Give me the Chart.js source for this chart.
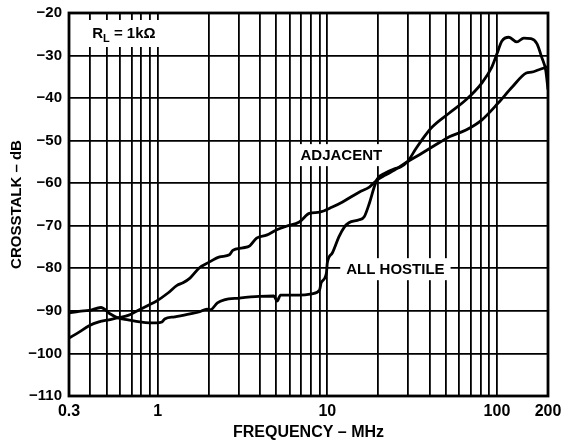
<!DOCTYPE html>
<html>
<head>
<meta charset="utf-8">
<title>Crosstalk vs Frequency</title>
<script src="https://cdn.jsdelivr.net/npm/chart.js@4.4.1/dist/chart.umd.min.js"></script>
<style>
  html, body { margin: 0; padding: 0; background: #fff; }
  canvas { display: block; }
</style>
</head>
<body>
<canvas id="crosstalk" width="561" height="445"></canvas>
<script>
// Crosstalk vs frequency, RL = 1k, adjacent channel and all channels hostile
const adjacentFreq = [0.3, 0.344, 0.394, 0.45, 0.515, 0.59, 0.676, 0.774, 0.887, 0.975,
  1.15, 1.3, 1.41, 1.55, 1.77, 2.0, 2.32, 2.65, 2.77, 3.17,
  3.49, 3.83, 4.38, 5.0, 5.73, 6.84, 7.83, 9.0, 10.7, 12.3,
  15.4, 17.7, 19.7, 22.0, 24.9, 29.0, 36.3, 45.6, 52.4, 65.7,
  81.6, 102, 123, 149, 160, 175, 200];
const adjacentDb = [-96.4, -95.0, -93.5, -92.6, -92.1, -91.6, -91.0, -89.8, -88.6, -87.8,
  -85.8, -84.0, -83.4, -82.3, -79.8, -78.6, -77.3, -76.8, -75.8, -75.2,
  -74.7, -72.9, -72.2, -71.0, -70.1, -69.1, -67.1, -66.8, -65.6, -64.4,
  -62.1, -60.9, -59.2, -58.1, -56.9, -55.2, -52.9, -50.5, -49.1, -47.5,
  -45.1, -41.1, -37.4, -34.1, -33.9, -33.4, -32.6];

const hostileFreq = [0.3, 0.344, 0.394, 0.463, 0.52, 0.58, 0.67, 0.785, 0.897, 0.98,
  1.06, 1.1, 1.26, 1.55, 1.77, 1.95, 2.05, 2.25, 2.47, 3.02,
  3.96, 4.84, 5.05, 5.3, 6.84, 8.1, 9.0, 9.2, 9.88, 10.0,
  10.7, 11.7, 12.6, 13.4, 15.4, 16.5, 17.7, 18.9, 19.7, 22.0,
  24.9, 27.0, 29.6, 33.4, 37.4, 41.5, 52.4, 65.7, 81.6, 93.3,
  100, 107, 117.6, 131, 144, 159, 172, 184, 194, 200];
const hostileDb = [-90.5, -90.1, -89.9, -89.2, -90.6, -91.6, -92.1, -92.6, -92.8, -92.8,
  -92.6, -91.9, -91.4, -90.7, -90.2, -89.6, -89.7, -88.1, -87.4, -87.0,
  -86.6, -86.5, -87.7, -86.3, -86.3, -86.0, -85.1, -83.4, -81.1, -78.7,
  -76.4, -72.6, -70.3, -69.3, -68.6, -67.9, -64.7, -60.9, -59.0, -57.6,
  -56.6, -56.2, -55.0, -51.8, -49.0, -46.8, -43.5, -40.4, -36.4, -32.7,
  -29.6, -26.6, -25.7, -26.8, -25.9, -26.0, -27.2, -30.5, -33.5, -38.0];

const xTickLabels = [0.3, 1, 10, 100, 200];

const FONT = '"Liberation Sans", Arial, Helvetica, sans-serif';

// vertical grid at 1..9 of every decade inside 0.3 - 200, plus the 200 edge
const gridFreqs = [];
for (let k = -1; k <= 2; k++) {
  for (let m = 1; m <= 9; m++) {
    const v = Number((m * Math.pow(10, k)).toPrecision(3));
    if (v >= 0.3 && v <= 200) gridFreqs.push(v);
  }
}

const toPoints = (xs, ys) => xs.map((x, i) => ({ x: x, y: ys[i] }));
const minus = v => String(v).replace('-', '\u2212');

// curve names sit on white boxes that hide the grid behind them
const curveLabels = [
  { text: 'ADJACENT', x: 12.1, y: -53.4 },
  { text: 'ALL HOSTILE', x: 25.2, y: -80.2 }
];

const plotText = {
  id: 'plotText',
  beforeDatasetsDraw(chart) {
    const { ctx, scales: { x, y } } = chart;
    ctx.save();
    ctx.font = 'bold 15px ' + FONT;
    ctx.textBaseline = 'middle';
    ctx.textAlign = 'center';
    curveLabels.forEach(l => {
      const px = x.getPixelForValue(l.x);
      const py = y.getPixelForValue(l.y);
      const w = ctx.measureText(l.text).width;
      ctx.fillStyle = '#fff';
      ctx.fillRect(px - w / 2 - 6, py - 11, w + 12, 22);
      ctx.fillStyle = '#000';
      ctx.fillText(l.text, px, py + 1);
    });

    // R with subscript L = 1kΩ
    const cx = x.getPixelForValue(0.632);
    const cy = y.getPixelForValue(-24.7);
    const big = 'bold 15px ' + FONT, small = 'bold 11px ' + FONT;
    ctx.textAlign = 'left';
    ctx.textBaseline = 'alphabetic';
    ctx.font = big;
    const wR = ctx.measureText('R').width;
    const wRest = ctx.measureText(' = 1k\u03A9').width;
    ctx.font = small;
    const wL = ctx.measureText('L').width;
    const total = wR + wL + wRest;
    ctx.fillStyle = '#fff';
    ctx.fillRect(cx - total / 2 - 7, cy - 13, total + 14, 27);
    ctx.fillStyle = '#000';
    let tx = cx - total / 2;
    const base = cy + 5;
    ctx.font = big;
    ctx.fillText('R', tx, base);
    tx += wR;
    ctx.font = small;
    ctx.fillText('L', tx, base + 4);
    tx += wL;
    ctx.font = big;
    ctx.fillText(' = 1k\u03A9', tx, base);
    ctx.restore();
  },
  afterDraw(chart) {
    const { ctx, chartArea: a } = chart;
    ctx.save();
    ctx.lineWidth = 2.8;
    ctx.strokeStyle = '#000';
    ctx.strokeRect(a.left, a.top, a.right - a.left, a.bottom - a.top);
    ctx.restore();
  }
};

const curveStyle = {
  borderColor: '#000',
  borderWidth: 2.8,
  pointRadius: 0,
  fill: false,
  cubicInterpolationMode: 'monotone'
};

new Chart(document.getElementById('crosstalk'), {
  type: 'line',
  data: {
    datasets: [
      Object.assign({ label: 'ADJACENT', data: toPoints(adjacentFreq, adjacentDb) }, curveStyle),
      Object.assign({ label: 'ALL HOSTILE', data: toPoints(hostileFreq, hostileDb) }, curveStyle)
    ]
  },
  options: {
    responsive: false,
    animation: false,
    layout: { padding: { top: 13, right: 13, bottom: 0, left: 0 } },
    plugins: { legend: { display: false }, tooltip: { enabled: false } },
    scales: {
      x: {
        type: 'logarithmic',
        min: 0.3,
        max: 200,
        border: { display: false },
        grid: { color: '#000', lineWidth: 1.8, drawTicks: false },
        afterBuildTicks: s => { s.ticks = gridFreqs.map(v => ({ value: v })); },
        ticks: {
          autoSkip: false,
          maxRotation: 0,
          padding: 6,
          color: '#000',
          font: { family: FONT, size: 16, weight: 'bold' },
          callback: v => xTickLabels.includes(v) ? String(v) : ''
        },
        title: {
          display: true,
          text: 'FREQUENCY \u2013 MHz',
          color: '#000',
          font: { family: FONT, size: 16, weight: 'bold' },
          padding: { top: 0, bottom: 3 }
        },
        afterFit: s => { s.height = 49; s.paddingLeft = 0; s.paddingRight = 0; }
      },
      y: {
        type: 'linear',
        min: -110,
        max: -20,
        border: { display: false },
        grid: { color: '#000', lineWidth: 1.8, drawTicks: false },
        ticks: {
          stepSize: 10,
          padding: 7,
          color: '#000',
          font: { family: FONT, size: 15, weight: 'bold' },
          callback: v => minus(v)
        },
        title: {
          display: true,
          text: 'CROSSTALK \u2013 dB',
          color: '#000',
          font: { family: FONT, size: 15, weight: 'bold' },
          padding: { top: 8, bottom: 0 }
        },
        afterFit: s => { s.width = 69; s.paddingTop = 0; s.paddingBottom = 0; }
      }
    }
  },
  plugins: [plotText]
});
</script>
</body>
</html>
